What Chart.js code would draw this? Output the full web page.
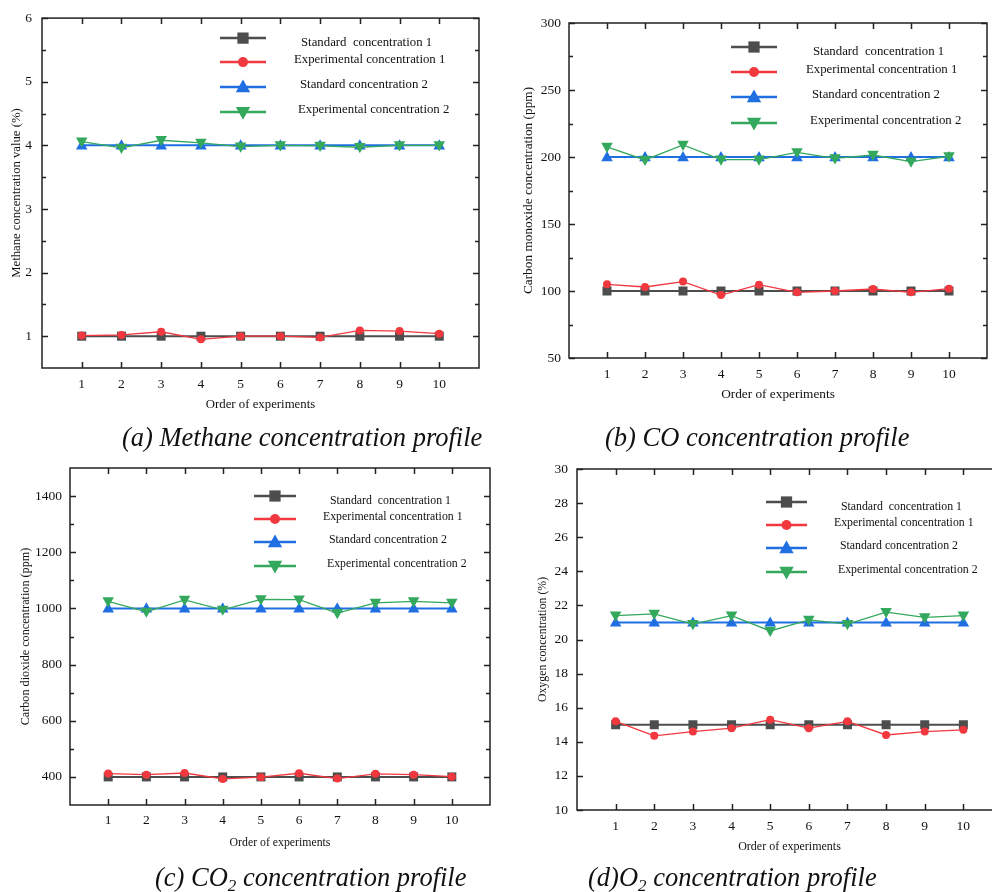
<!DOCTYPE html>
<html>
<head>
<meta charset="utf-8">
<script src="https://cdn.jsdelivr.net/npm/chart.js@4.4.0/dist/chart.umd.min.js"></script>
<style>
  html, body { margin: 0; padding: 0; background: #fff; overflow: hidden; }
  body { width: 992px; height: 892px; position: relative; }
  canvas { position: absolute; }
  .cap { position: absolute; font-family: "Liberation Serif", "DejaVu Serif", serif; font-style: italic;
         font-size: 26.5px; color: #111; white-space: nowrap; line-height: 1; }
  .cap sub { font-size: 17px; vertical-align: -5px; line-height: 0; }
</style>
</head>
<body>
<canvas id="chart-a" width="500" height="420" style="left:0;top:0"></canvas>
<canvas id="chart-b" width="492" height="420" style="left:500px;top:0"></canvas>
<canvas id="chart-c" width="500" height="442" style="left:0;top:450px"></canvas>
<canvas id="chart-d" width="520" height="442" style="left:500px;top:450px"></canvas>
<div class="cap" style="left:122px;top:424px">(a) Methane concentration profile</div>
<div class="cap" style="left:605px;top:424px">(b) CO concentration profile</div>
<div class="cap" style="left:155px;top:864px">(c) CO<sub>2</sub> concentration profile</div>
<div class="cap" style="left:588px;top:864px">(d)O<sub>2</sub> concentration profile</div>
<script>
// Data
const experiments = [1, 2, 3, 4, 5, 6, 7, 8, 9, 10];
const legendLabels = ["Standard  concentration 1", "Experimental concentration 1",
                      "Standard concentration 2", "Experimental concentration 2"];

// (a) methane, %
const methaneStd1 = [1, 1, 1, 1, 1, 1, 1, 1, 1, 1];
const methaneExp1 = [1.01, 1.02, 1.07, 0.95, 1.0, 1.0, 0.98, 1.09, 1.08, 1.04];
const methaneStd2 = [4, 4, 4, 4, 4, 4, 4, 4, 4, 4];
const methaneExp2 = [4.06, 3.96, 4.08, 4.04, 3.98, 4.0, 3.99, 3.97, 4.0, 4.0];
const methaneTicks = [1, 2, 3, 4, 5, 6];
const methaneMinor = [1.5, 2.5, 3.5, 4.5, 5.5];

// (b) carbon monoxide, ppm
const coStd1 = [100, 100, 100, 100, 100, 100, 100, 100, 100, 100];
const coExp1 = [105, 103, 107, 97, 104.7, 99, 100, 101.5, 99, 101.7];
const coStd2 = [200, 200, 200, 200, 200, 200, 200, 200, 200, 200];
const coExp2 = [207.5, 197.8, 209, 198, 198, 203.5, 199, 201.5, 196.5, 200.5];
const coTicks = [50, 100, 150, 200, 250, 300];
const coMinor = [75, 125, 175, 225, 275];

// (c) carbon dioxide, ppm
const co2Std1 = [400, 400, 400, 400, 400, 400, 400, 400, 400, 400];
const co2Exp1 = [412, 408, 414, 393, 399, 413, 394, 411, 408, 401];
const co2Std2 = [1000, 1000, 1000, 1000, 1000, 1000, 1000, 1000, 1000, 1000];
const co2Exp2 = [1025, 988, 1030, 995, 1032, 1031, 983, 1020, 1025, 1020];
const co2Ticks = [400, 600, 800, 1000, 1200, 1400];
const co2Minor = [500, 700, 900, 1100, 1300];

// (d) oxygen, %
const o2Std1 = [15, 15, 15, 15, 15, 15, 15, 15, 15, 15];
const o2Exp1 = [15.2, 14.35, 14.6, 14.8, 15.3, 14.8, 15.2, 14.4, 14.6, 14.7];
const o2Std2 = [21, 21, 21, 21, 21, 21, 21, 21, 21, 21];
const o2Exp2 = [21.4, 21.5, 20.9, 21.4, 20.5, 21.15, 20.9, 21.6, 21.3, 21.4];
const o2Ticks = [10, 12, 14, 16, 18, 20, 22, 24, 26, 28, 30];
const o2Minor = [];

// series styling
const colors = ["#4d4d4d", "#f2383f", "#1f6fe3", "#34a85c"];
const lineWidths = [2, 1.3, 2, 1.3];
const markers = ["square", "circle", "up", "down"];
const markerSize = [4.5, 4, 5.5, 5.5];
const FONT = "'Liberation Serif', 'DejaVu Serif', serif";

function drawMarker(ctx, kind, x, y, r) {
  ctx.beginPath();
  if (kind === "square") {
    ctx.rect(x - r, y - r, 2 * r, 2 * r);
  } else if (kind === "circle") {
    ctx.arc(x, y, r, 0, Math.PI * 2);
  } else {
    const s = kind === "up" ? 1 : -1;
    ctx.moveTo(x, y - s * r * 1.1);
    ctx.lineTo(x + r * 1.05, y + s * r * 0.75);
    ctx.lineTo(x - r * 1.05, y + s * r * 0.75);
    ctx.closePath();
  }
  ctx.fill();
}

// box, inward ticks and the legend
const framePlugin = {
  id: "frame",
  beforeDatasetsDraw(chart, args, opts) {
    const { ctx, chartArea: a, scales: { x, y } } = chart;
    ctx.save();
    ctx.strokeStyle = "#222";
    ctx.lineWidth = 1.5;
    ctx.strokeRect(a.left, a.top, a.right - a.left, a.bottom - a.top);
    ctx.beginPath();
    x.ticks.forEach(t => {
      const px = Math.round(x.getPixelForValue(t.value)) + 0.5;
      ctx.moveTo(px, a.bottom); ctx.lineTo(px, a.bottom - 6);
      ctx.moveTo(px, a.top); ctx.lineTo(px, a.top + 6);
    });
    y.ticks.forEach(t => {
      const py = Math.round(y.getPixelForValue(t.value)) + 0.5;
      ctx.moveTo(a.left, py); ctx.lineTo(a.left + 6, py);
      ctx.moveTo(a.right, py); ctx.lineTo(a.right - 6, py);
    });
    (opts.minor || []).forEach(v => {
      const py = Math.round(y.getPixelForValue(v)) + 0.5;
      ctx.moveTo(a.left, py); ctx.lineTo(a.left + 4, py);
      ctx.moveTo(a.right, py); ctx.lineTo(a.right - 4, py);
    });
    ctx.stroke();
    ctx.restore();
  },
  afterDatasetsDraw(chart, args, opts) {
    const lg = opts.legend;
    if (!lg) return;
    const { ctx, chartArea: a } = chart;
    const textDx = [7, 0, 6, 4];
    const textDy = [5, -2, -2, -2];
    ctx.save();
    chart.data.datasets.forEach((ds, i) => {
      const ry = a.top + lg.rows[i];
      const x0 = a.left + lg.x0, x1 = a.left + lg.x1;
      ctx.strokeStyle = ds.borderColor;
      ctx.fillStyle = ds.borderColor;
      ctx.lineWidth = 2.5;
      ctx.beginPath();
      ctx.moveTo(x0, ry); ctx.lineTo(x1, ry);
      ctx.stroke();
      drawMarker(ctx, markers[i], (x0 + x1) / 2, ry, markerSize[i] * 1.25);
      ctx.fillStyle = "#111";
      ctx.font = lg.fontSize + "px " + FONT;
      ctx.textBaseline = "middle";
      ctx.textAlign = "left";
      ctx.fillText(ds.label, a.left + lg.text + textDx[i], ry + textDy[i]);
    });
    ctx.restore();
  }
};

// custom point drawing so markers match the legend
const markerPlugin = {
  id: "markers",
  afterDatasetDraw(chart, args) {
    const { ctx } = chart;
    const i = args.index;
    const meta = chart.getDatasetMeta(i);
    ctx.save();
    ctx.fillStyle = chart.data.datasets[i].borderColor;
    meta.data.forEach(pt => drawMarker(ctx, markers[i], pt.x, pt.y, markerSize[i]));
    ctx.restore();
  }
};

function makeChart(id, p) {
  const datasets = p.series.map((vals, i) => ({
    label: legendLabels[i],
    data: experiments.map((e, k) => ({ x: e, y: vals[k] })),
    borderColor: colors[i],
    backgroundColor: colors[i],
    borderWidth: lineWidths[i],
    pointRadius: 0,
    tension: 0,
    order: 3 - i
  }));
  return new Chart(document.getElementById(id), {
    type: "line",
    data: { datasets },
    plugins: [framePlugin, markerPlugin],
    options: {
      responsive: false,
      animation: false,
      devicePixelRatio: 1,
      layout: { padding: p.pad },
      plugins: {
        legend: { display: false },
        tooltip: { enabled: false },
        frame: { minor: p.minor, legend: p.legend }
      },
      scales: {
        x: {
          type: "linear", min: 0, max: 11,
          afterBuildTicks: s => { s.ticks = experiments.map(v => ({ value: v })); },
          afterFit: s => { s.height = p.xH; },
          grid: { display: false, drawTicks: false },
          border: { display: false },
          ticks: { font: { family: FONT, size: 13.5 }, color: "#111", padding: p.xPad,
                   maxRotation: 0, autoSkip: false, callback: v => String(v) },
          title: { display: true, text: "Order of experiments", color: "#111",
                   font: { family: FONT, size: p.xTitleSize }, padding: { top: 4, bottom: 4 } }
        },
        y: {
          type: "linear", min: p.yMin, max: p.yMax,
          afterBuildTicks: s => { s.ticks = p.yTicks.map(v => ({ value: v })); },
          afterFit: s => { s.width = p.yW; },
          grid: { display: false, drawTicks: false },
          border: { display: false },
          ticks: { font: { family: FONT, size: 13.5 }, color: "#111", padding: p.yPad,
                   autoSkip: false, callback: v => String(v) },
          title: { display: true, text: p.yTitle, color: "#111",
                   font: { family: FONT, size: p.yTitleSize }, padding: { top: 4, bottom: 4 } }
        }
      }
    }
  });
}

makeChart("chart-a", {
  series: [methaneStd1, methaneExp1, methaneStd2, methaneExp2],
  yMin: 0.5, yMax: 6, yTicks: methaneTicks, minor: methaneMinor,
  yTitle: "Methane concentration value (%)", xTitleSize: 12.8, yTitleSize: 12.7,
  pad: { left: 5, top: 17, right: 21, bottom: 4 }, yW: 37, xH: 48, yPad: 10, xPad: 8,
  legend: { x0: 178, x1: 224, text: 252, rows: [20, 44, 69, 94], fontSize: 12.8 }
});

makeChart("chart-b", {
  series: [coStd1, coExp1, coStd2, coExp2],
  yMin: 50, yMax: 300, yTicks: coTicks, minor: coMinor,
  yTitle: "Carbon monoxide concentration (ppm)", xTitleSize: 13.3, yTitleSize: 13.3,
  pad: { left: 17, top: 23, right: 5, bottom: 14 }, yW: 52, xH: 48, yPad: 8, xPad: 8,
  legend: { x0: 162, x1: 208, text: 237, rows: [24, 49, 74, 100], fontSize: 12.8 }
});

makeChart("chart-c", {
  series: [co2Std1, co2Exp1, co2Std2, co2Exp2],
  yMin: 300, yMax: 1500, yTicks: co2Ticks, minor: co2Minor,
  yTitle: "Carbon dioxide concentration (ppm)", xTitleSize: 11.8, yTitleSize: 12.2,
  pad: { left: 14, top: 18, right: 10, bottom: 38 }, yW: 56, xH: 49, yPad: 8, xPad: 7,
  legend: { x0: 184, x1: 226, text: 253, rows: [28, 51, 74, 98], fontSize: 11.8 }
});

makeChart("chart-d", {
  series: [o2Std1, o2Exp1, o2Std2, o2Exp2],
  yMin: 10, yMax: 30, yTicks: o2Ticks, minor: o2Minor,
  yTitle: "Oxygen concentration (%)", xTitleSize: 12, yTitleSize: 11.8,
  pad: { left: 32, top: 19, right: 18, bottom: 34 }, yW: 45, xH: 48, yPad: 9, xPad: 8,
  legend: { x0: 189, x1: 230, text: 257, rows: [33, 56, 79, 103], fontSize: 11.8 }
});
</script>
</body>
</html>
